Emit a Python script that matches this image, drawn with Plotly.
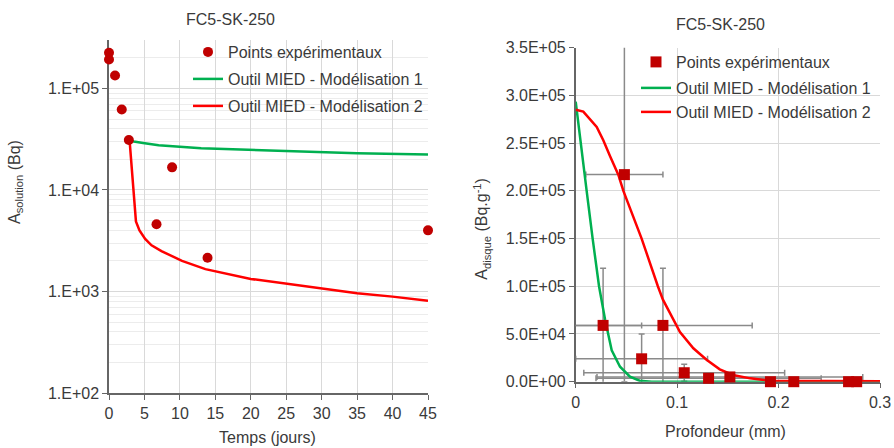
import math
import plotly.graph_objects as go

# ---------------- Left chart: activity in solution vs time ----------------
t_exp = [0, 0, 0.85, 1.8, 2.8, 6.7, 8.9, 13.9, 45]
a_sol_exp = [2.25e5, 1.93e5, 1.34e5, 6.2e4, 3.1e4, 4.6e3, 1.67e4, 2.15e3, 4.0e3]

t_mod1 = [2.9, 3.5, 4.8, 7, 13, 20, 27, 35, 45]
a_sol_mod1 = [3.1e4, 3.0e4, 2.9e4, 2.75e4, 2.57e4, 2.47e4, 2.38e4, 2.3e4, 2.24e4]

t_mod2 = [2.9, 3.8, 4.3, 5.1, 6, 7.4, 10.3, 13.6, 20, 25, 30, 35, 40, 45]
a_sol_mod2 = [3.1e4, 4.9e3, 4.0e3, 3.3e3, 2.85e3, 2.5e3, 2.0e3, 1.66e3, 1.33e3,
              1.19e3, 1.07e3, 960, 890, 810]

left_xticks = [0, 5, 10, 15, 20, 25, 30, 35, 40, 45]
left_yticks = [1e2, 1e3, 1e4, 1e5]
left_yticktext = ["1.E+02", "1.E+03", "1.E+04", "1.E+05"]

# ---------------- Right chart: activity in disc vs depth ----------------
d_exp = [0.048, 0.027, 0.086, 0.065, 0.107, 0.131, 0.152, 0.192, 0.215, 0.269, 0.277]
a_disc_exp = [2.17e5, 5.9e4, 5.9e4, 2.4e4, 9.4e3, 3.6e3, 5.0e3, 0, 0, 0, 0]
d_err = [0.038, 0.038, 0.088, 0.065, 0.099, 0.111, 0.131, 0, 0, 0, 0]
a_err = [2.17e5, 6.0e4, 6.0e4, 2.6e4, 8.8e3, 0, 0, 0, 0, 0, 0]

d_mod1 = [0, 0.0075, 0.0108, 0.0167, 0.023, 0.029, 0.0355, 0.0437, 0.0535, 0.063, 0.075, 0.3]
a_disc_mod1 = [2.935e5, 2.32e5, 2.0e5, 1.5e5, 1.0e5, 6.5e4, 3.3e4, 1.57e4, 5.2e3, 1.0e3, 0, 0]

d_mod2 = [0, 0.0075, 0.0207, 0.0272, 0.034, 0.042, 0.047, 0.065, 0.081, 0.086, 0.1028,
          0.116, 0.129, 0.142, 0.155, 0.172, 0.191, 0.22, 0.3]
a_disc_mod2 = [2.85e5, 2.83e5, 2.67e5, 2.53e5, 2.36e5, 2.17e5, 2.0e5, 1.5e5, 1.0e5, 8.6e4,
               5.2e4, 3.5e4, 2.3e4, 1.3e4, 7e3, 3.5e3, 1.0e3, 700, 500]

right_xticks = [0, 0.1, 0.2, 0.3]
right_xticktext = ["0", "0.1", "0.2", "0.3"]
right_yticks = [0, 5e4, 1e5, 1.5e5, 2e5, 2.5e5, 3e5, 3.5e5]
right_yticktext = ["0.0E+00", "5.0E+04", "1.0E+05", "1.5E+05", "2.0E+05",
                   "2.5E+05", "3.0E+05", "3.5E+05"]

names = ["Points expérimentaux", "Outil MIED - Modélisation 1", "Outil MIED - Modélisation 2"]

DARKRED = "#C00000"
GREEN = "#00B050"
RED = "#FF0000"
TXT = "#3a3a3a"
AXC = "#666666"
GRID = "#d9d9d9"
ERRC = "#8a8a8a"
FONT = "Liberation Sans, Arial, sans-serif"

W, H = 894, 448
def px(x):
    return x / W
def py(y):
    return 1 - y / H

fig = go.Figure()

# Left chart
fig.add_trace(go.Scatter(x=t_mod1, y=a_sol_mod1, mode="lines", name=names[1],
                         line=dict(color=GREEN, width=2.5), xaxis="x", yaxis="y",
                         legend="legend2"))
fig.add_trace(go.Scatter(x=t_mod2, y=a_sol_mod2, mode="lines", name=names[2],
                         line=dict(color=RED, width=2.5), xaxis="x", yaxis="y",
                         legend="legend3"))
fig.add_trace(go.Scatter(x=t_exp, y=a_sol_exp, mode="markers", name=names[0],
                         marker=dict(color=DARKRED, size=10, symbol="circle"),
                         xaxis="x", yaxis="y", cliponaxis=False, legend="legend"))

# Right chart: error bars (clipped) on main subplot
fig.add_trace(go.Scatter(x=d_exp, y=a_disc_exp, mode="markers", showlegend=False,
                         marker=dict(color="rgba(0,0,0,0)", size=1),
                         error_x=dict(type="data", array=d_err, color=ERRC, thickness=1.5, width=3),
                         error_y=dict(type="data", array=a_err, color=ERRC, thickness=1.5, width=3),
                         xaxis="x2", yaxis="y2", hoverinfo="skip"))
fig.add_trace(go.Scatter(x=d_mod1, y=a_disc_mod1, mode="lines", name=names[1],
                         line=dict(color=GREEN, width=2.5), xaxis="x2", yaxis="y2",
                         legend="legend5"))
fig.add_trace(go.Scatter(x=d_mod2, y=a_disc_mod2, mode="lines", name=names[2],
                         line=dict(color=RED, width=2.5), xaxis="x2", yaxis="y2",
                         legend="legend6"))
# markers on overlay subplot (not clipped)
fig.add_trace(go.Scatter(x=d_exp, y=a_disc_exp, mode="markers", name=names[0],
                         marker=dict(color=DARKRED, size=11, symbol="square"),
                         xaxis="x3", yaxis="y3", cliponaxis=False, legend="legend4"))

minor_vals = [k * 10 ** n for n in range(2, 6) for k in range(2, 10) if k * 10 ** n <= 3e5]

axis_common = dict(showline=True, linecolor=AXC, linewidth=1.5, ticks="outside",
                   ticklen=5, tickcolor=AXC, tickwidth=1.2, zeroline=False,
                   layer="below traces", showgrid=True, gridcolor=GRID, gridwidth=1,
                   automargin=False,
                   tickfont=dict(size=16, color=TXT, family=FONT), fixedrange=True)

leg_common = dict(bgcolor="rgba(0,0,0,0)", borderwidth=0, xanchor="left", yanchor="middle",
                  font=dict(size=16, color=TXT, family=FONT))

fig.update_layout(
    width=W, height=H, margin=dict(l=0, r=0, t=0, b=0, pad=0, autoexpand=False),
    paper_bgcolor="white", plot_bgcolor="white",
    font=dict(family=FONT, size=16, color=TXT),
    xaxis=dict(domain=[px(109), px(428)], range=[0, 45], tickmode="array",
               tickvals=left_xticks, anchor="y", **axis_common),
    yaxis=dict(domain=[py(393), py(40)], type="log", range=[2, math.log10(3e5)],
               tickmode="array", tickvals=left_yticks, ticktext=left_yticktext,
               anchor="x",
               minor=dict(tickmode="array", tickvals=minor_vals, showgrid=True,
                          gridcolor="#ececec", ticks=""),
               **axis_common),
    xaxis2=dict(domain=[px(575.7), px(880)], range=[0, 0.3], tickmode="array",
                tickvals=right_xticks, ticktext=right_xticktext, anchor="y2", **axis_common),
    yaxis2=dict(domain=[py(381.7), py(47.7)], range=[0, 3.5e5], tickmode="array",
                tickvals=right_yticks, ticktext=right_yticktext, anchor="x2", **axis_common),
    xaxis3=dict(overlaying="x2", range=[0, 0.3], visible=False, anchor="y3",
                fixedrange=True, automargin=False),
    yaxis3=dict(overlaying="y2", range=[0, 3.5e5], visible=False, anchor="x3",
                fixedrange=True, automargin=False),
    legend=dict(x=px(188), y=py(52), **leg_common),
    legend2=dict(x=px(188), y=py(79), **leg_common),
    legend3=dict(x=px(188), y=py(106), **leg_common),
    legend4=dict(x=px(636), y=py(62), **leg_common),
    legend5=dict(x=px(636), y=py(88), **leg_common),
    legend6=dict(x=px(636), y=py(112), **leg_common),
    showlegend=True,
    hovermode=False,
)

ann = dict(xref="paper", yref="paper", showarrow=False, xanchor="center", yanchor="middle",
           font=dict(size=16, color=TXT, family=FONT))
fig.add_annotation(text="FC5-SK-250", x=px(230.5), y=py(19), **ann)
fig.add_annotation(text="FC5-SK-250", x=px(720.8), y=py(25), **ann)
fig.add_annotation(text="Temps (jours)", x=px(267.5), y=py(437), **ann)
fig.add_annotation(text="Profondeur (mm)", x=px(725), y=py(431.7), **ann)
fig.add_annotation(text="A<sub>solution</sub> (Bq)", x=px(15), y=py(182), textangle=-90, **ann)
fig.add_annotation(text="A<sub>disque</sub> (Bq.g<sup>-1</sup>)", x=px(481.7), y=py(229),
                   textangle=-90, **ann)

fig.write_html("out.html", config={"displayModeBar": False},
               post_script="document.body.style.margin='0';document.body.style.overflow='hidden';")
